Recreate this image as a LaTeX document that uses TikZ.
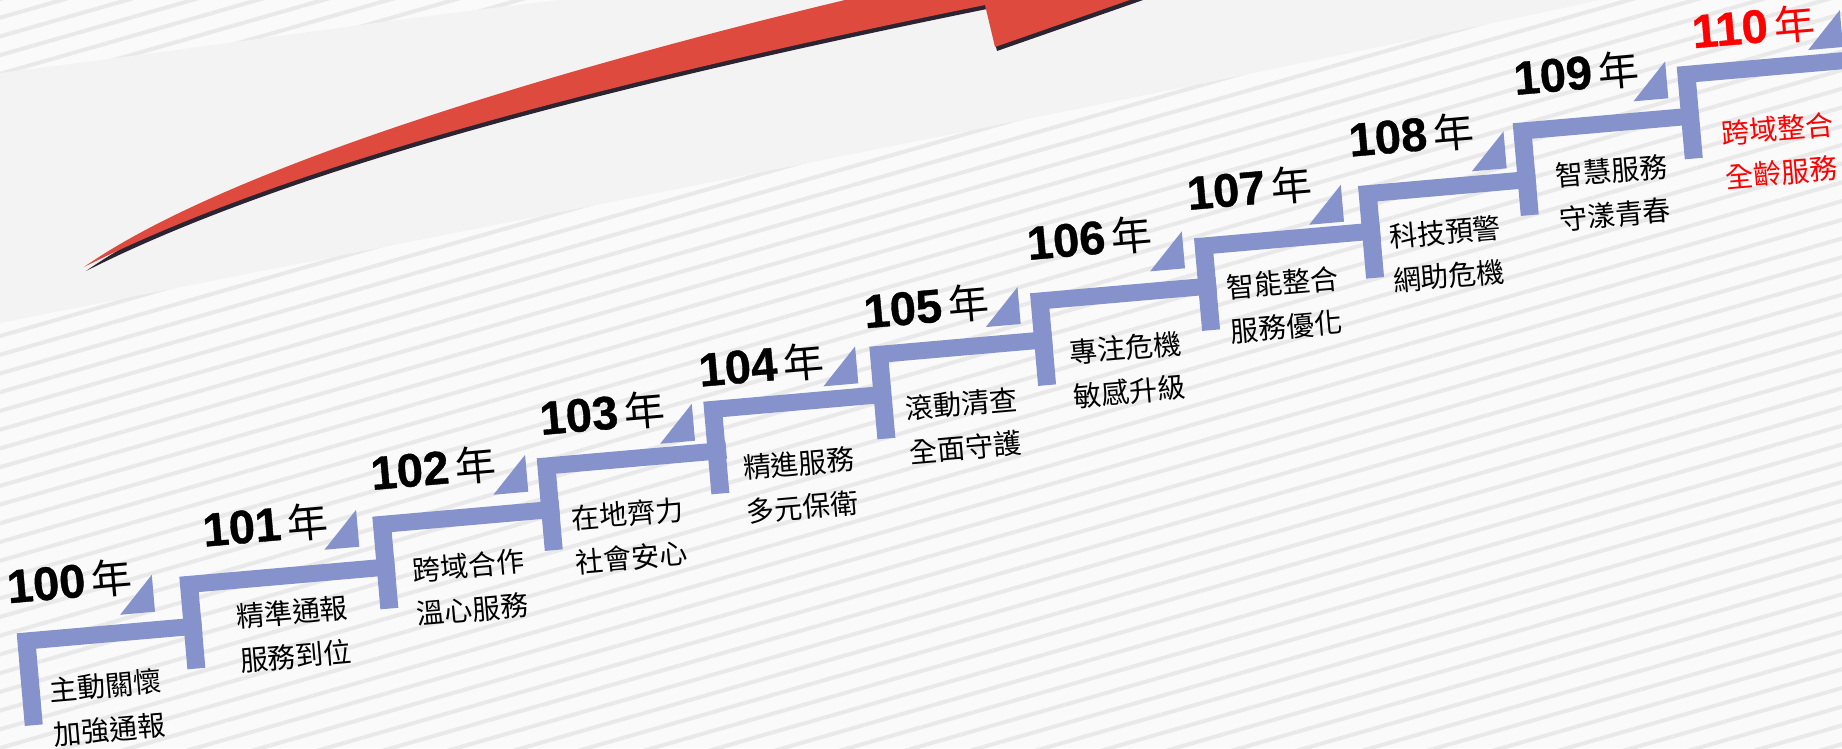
\documentclass[tikz,border=0pt]{standalone}
\usepackage{fontspec}
\setmainfont{Liberation Sans}
\newfontfamily\cjkfont{Noto Sans CJK TC}
\newfontfamily\yearfont[FakeBold=0.8]{Liberation Sans Bold}
\usetikzlibrary{patterns.meta}

\definecolor{barblue}{RGB}{134,146,203}
\definecolor{arrowred}{RGB}{223,74,63}
\definecolor{arrowshade}{RGB}{45,36,50}
\definecolor{paper}{RGB}{250,250,250}
\definecolor{stripe}{RGB}{233,233,233}
\definecolor{plain}{RGB}{243,243,243}
\newcommand{\nian}{\kern6pt{\cjkfont\mdseries\fontsize{41}{41}\selectfont 年}}

\begin{document}
\begin{tikzpicture}[x=1pt, y=1pt,
    bar/.style={fill=barblue},
    yearlabel/.style={font=\yearfont\fontsize{47}{47}\selectfont, anchor=base west, inner sep=0, rotate=5},
    desc/.style={font=\cjkfont\fontsize{28}{44}\selectfont, align=center, inner sep=0, rotate=5}]
  \useasboundingbox (0,0) rectangle (1842,748);
  \clip (0,0) rectangle (1842,748);

  % background
  \fill[paper] (0,0) rectangle (1842,748);
  \fill[pattern={Lines[angle=16, distance=18pt, line width=4pt]}, pattern color=stripe] (0,0) rectangle (1842,748);
  \fill[plain] (0,425) .. controls (500,525) and (1100,640) .. (1600,748) -- (560,748) .. controls (400,730) and (200,700) .. (0,675) -- cycle;

  % red arrow
  \fill[arrowshade, shift={(2,-4)}] (84,481) .. controls (300,590) and (650,675) .. (985,743) -- (995,701) -- (1230,783) -- (870,775) -- (845,748) .. controls (595,688) and (234,586) .. (84,481) -- cycle;
  \fill[arrowred] (84,481) .. controls (300,590) and (650,675) .. (985,743) -- (995,701) -- (1230,783) -- (870,775) -- (845,748) .. controls (595,688) and (234,586) .. (84,481) -- cycle;

  % corners of the steps
  \coordinate (corner100) at (16.7,114.7);
  \coordinate (corner101) at (179.3,171.3);
  \coordinate (corner102) at (372.3,231.3);
  \coordinate (corner103) at (536.7,289.7);
  \coordinate (corner104) at (703.3,346.3);
  \coordinate (corner105) at (869.3,401.3);
  \coordinate (corner106) at (1030,454.7);
  \coordinate (corner107) at (1194,509.7);
  \coordinate (corner108) at (1358,562);
  \coordinate (corner109) at (1512.7,624.7);
  \coordinate (corner110) at (1676.7,681.3);

  % steps
  \fill[bar] (corner100) -- ++(5:185)   -- ++(-85:17) -- ++(185:167)   -- ++(-85:76) -- ++(185:18) -- cycle;
  \fill[bar] (corner101) -- ++(5:215.5) -- ++(-85:17) -- ++(185:197.5) -- ++(-85:76) -- ++(185:18) -- cycle;
  \fill[bar] (corner102) -- ++(5:187)   -- ++(-85:17) -- ++(185:169)   -- ++(-85:76) -- ++(185:18) -- cycle;
  \fill[bar] (corner103) -- ++(5:189.5) -- ++(-85:17) -- ++(185:171.5) -- ++(-85:76) -- ++(185:18) -- cycle;
  \fill[bar] (corner104) -- ++(5:187.5) -- ++(-85:17) -- ++(185:169.5) -- ++(-85:76) -- ++(185:18) -- cycle;
  \fill[bar] (corner105) -- ++(5:182.7) -- ++(-85:17) -- ++(185:164.7) -- ++(-85:76) -- ++(185:18) -- cycle;
  \fill[bar] (corner106) -- ++(5:186.2) -- ++(-85:17) -- ++(185:168.2) -- ++(-85:76) -- ++(185:18) -- cycle;
  \fill[bar] (corner107) -- ++(5:186)   -- ++(-85:17) -- ++(185:168)   -- ++(-85:76) -- ++(185:18) -- cycle;
  \fill[bar] (corner108) -- ++(5:177.6) -- ++(-85:17) -- ++(185:159.6) -- ++(-85:76) -- ++(185:18) -- cycle;
  \fill[bar] (corner109) -- ++(5:185.7) -- ++(-85:17) -- ++(185:167.7) -- ++(-85:76) -- ++(185:18) -- cycle;
  \fill[bar] (corner110) -- ++(5:250)   -- ++(-85:17) -- ++(185:232)   -- ++(-85:76) -- ++(185:18) -- cycle;

  % triangles
  \coordinate (tri100) at (155,136.3);
  \coordinate (tri101) at (359.3,201.3);
  \coordinate (tri102) at (528.3,256.3);
  \coordinate (tri103) at (695,307.3);
  \coordinate (tri104) at (858.3,364.7);
  \coordinate (tri105) at (1020.7,424);
  \coordinate (tri106) at (1185,479.7);
  \coordinate (tri107) at (1344,526.3);
  \coordinate (tri108) at (1506.7,579.7);
  \coordinate (tri109) at (1668.3,649.7);
  \coordinate (tri110) at (1843,701);
  \fill[bar] (tri100) -- +(185:35) -- +(95:37) -- cycle;
  \fill[bar] (tri101) -- +(185:35) -- +(95:37) -- cycle;
  \fill[bar] (tri102) -- +(185:35) -- +(95:37) -- cycle;
  \fill[bar] (tri103) -- +(185:35) -- +(95:37) -- cycle;
  \fill[bar] (tri104) -- +(185:35) -- +(95:37) -- cycle;
  \fill[bar] (tri105) -- +(185:35) -- +(95:37) -- cycle;
  \fill[bar] (tri106) -- +(185:35) -- +(95:37) -- cycle;
  \fill[bar] (tri107) -- +(185:35) -- +(95:37) -- cycle;
  \fill[bar] (tri108) -- +(185:35) -- +(95:37) -- cycle;
  \fill[bar] (tri109) -- +(185:35) -- +(95:37) -- cycle;
  \fill[bar] (tri110) -- +(185:35) -- +(95:37) -- cycle;

  % years
  \node at (8.3,144.7)  [yearlabel] (year100) {100\nian};
  \node at (204,201.3)  [yearlabel] (year101) {101\nian};
  \node at (372,258)    [yearlabel] (year102) {102\nian};
  \node at (541,313)    [yearlabel] (year103) {103\nian};
  \node at (700,361.3)  [yearlabel] (year104) {104\nian};
  \node at (865,419.7)  [yearlabel] (year105) {105\nian};
  \node at (1028.3,488) [yearlabel] (year106) {106\nian};
  \node at (1188.3,538) [yearlabel] (year107) {107\nian};
  \node at (1350,591.3) [yearlabel] (year108) {108\nian};
  \node at (1515,653)   [yearlabel] (year109) {109\nian};
  \node at (1693.3,699.7) [yearlabel, text=red] (year110) {110\nian};

  % texts
  \node at (107.75,40.25)  [desc] (text100) {主動關懷\\加強通報};
  \node at (294,114)       [desc] (text101) {精準通報\\服務到位};
  \node at (470.5,160.5)   [desc] (text102) {跨域合作\\溫心服務};
  \node at (629.5,212.25)  [desc] (text103) {在地齊力\\社會安心};
  \node at (800.8,262.6)   [desc] (text104) {精進服務\\多元保衛};
  \node at (963.3,322.2)   [desc] (text105) {滾動清查\\全面守護};
  \node at (1127.75,378.25) [desc] (text106) {專注危機\\敏感升級};
  \node at (1284.5,443.25) [desc] (text107) {智能整合\\服務優化};
  \node at (1447,494)      [desc] (text108) {科技預警\\網助危機};
  \node at (1613.25,555)   [desc] (text109) {智慧服務\\守漾青春};
  \node at (1779.5,597.25) [desc, text=red] (text110) {跨域整合\\全齡服務};
\end{tikzpicture}
\end{document}
